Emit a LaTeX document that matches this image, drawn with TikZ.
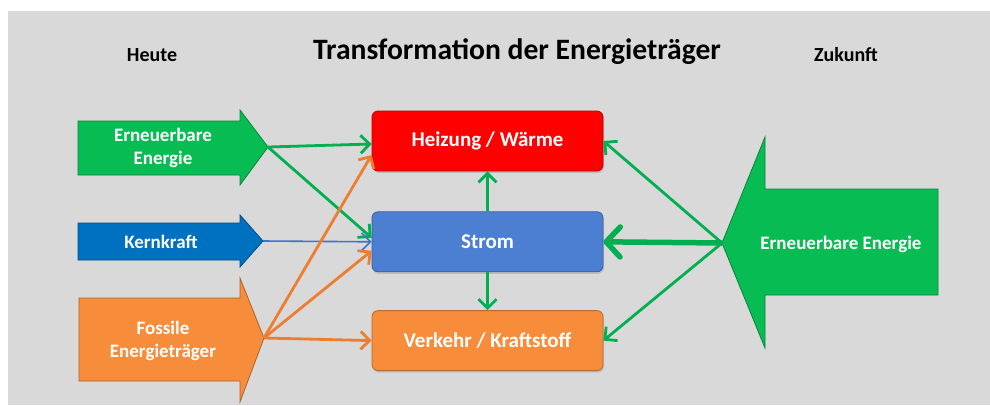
\documentclass[tikz,border=0pt]{standalone}
\usepackage{fontspec}
\setmainfont{Carlito}
\usetikzlibrary{arrows.meta, positioning, shadows}
\definecolor{bggray}{RGB}{217,217,217}
\definecolor{renewgreen}{RGB}{0,176,80}
\definecolor{renewfill}{RGB}{8,188,84}
\definecolor{nuclearblue}{RGB}{0,112,192}
\definecolor{nuclearline}{RGB}{68,114,196}
\definecolor{powerblue}{RGB}{76,126,210}
\definecolor{heatred}{RGB}{255,0,0}
\definecolor{fossilorange}{RGB}{247,140,58}
\definecolor{fossilline}{RGB}{237,125,49}

\begin{document}
\begin{tikzpicture}[
    x=1pt, y=-1pt,
    box/.style={draw=#1!75!black, fill=#1, line width=0.8pt, rounded corners=6pt,
        minimum width=231pt, minimum height=60pt, text=white,
        font=\fontsize{21}{25}\selectfont\bfseries,
        drop shadow={shadow xshift=1pt, shadow yshift=-2pt, opacity=0.3}},
    arrowshape/.style={fill=#1, draw=#1!70!black, line width=0.8pt},
    arrowtext/.style={text=white, align=center, font=\fontsize{19}{23}\selectfont\bfseries},
    heading/.style={font=\fontsize{20}{24}\selectfont\bfseries},
    arrow/.style={-{Straight Barb[length=9pt, width=18pt]}, line width=2.8pt, draw=#1},
    bigarrow/.style={-{Straight Barb[round, length=14pt, width=30pt]}, line width=5.5pt, draw=#1}
]

\useasboundingbox (0,0) rectangle (990,405);
\fill[bggray] (8,11) rectangle (990,405);

% headings
\node[heading] (heute) at (152,55) {Heute};
\node[font=\fontsize{29.6}{34}\selectfont\bfseries] (titel) at (517,52) {Transformation der Energieträger};
\node[heading] (zukunft) at (846,55) {Zukunft};

% block arrows on the left
\draw[arrowshape=renewfill] (78,121) -- (240,121) -- (240,110) -- (268,147)
    -- (240,185) -- (240,175) -- (78,175) -- cycle;
\draw[arrowshape=nuclearblue] (78,223) -- (240,223) -- (240,215) -- (263,241)
    -- (240,267) -- (240,260) -- (78,260) -- cycle;
\draw[arrowshape=fossilorange] (79,298) -- (240,298) -- (240,278) -- (264,338)
    -- (240,402) -- (240,381) -- (79,381) -- cycle;
\node[arrowtext] (erneuerbar) at (163,148) {Erneuerbare\\Energie};
\node[arrowtext] (kern) at (161,242) {Kernkraft};
\node[arrowtext] (fossil) at (163,341) {Fossile\\Energieträger};
\coordinate (erneuerbar tip) at (268,147);
\coordinate (kern tip) at (263,241);
\coordinate (fossil tip) at (264,338);

% big arrow on the right
\draw[arrowshape=renewfill] (938,189) -- (765,189) -- (765,137) -- (722,243)
    -- (765,348) -- (765,295) -- (938,295) -- cycle;
\node[arrowtext] (zukunftstrom) at (841,244) {Erneuerbare Energie};
\coordinate (zukunft tip) at (722,243);

% middle column
\node[box=heatred] (heizung) at (487.5,141) {Heizung / Wärme};
\node[box=powerblue, below=40pt of heizung] (strom) {Strom};
\node[box=fossilorange, below=38pt of strom] (verkehr) {Verkehr / Kraftstoff};

% connectors
\draw[arrow=renewgreen] (erneuerbar tip) -- ([yshift=-3pt]heizung.west);
\draw[arrow=renewgreen] (erneuerbar tip) -- ([yshift=4pt]strom.west);
\draw[arrow=nuclearline, line width=1.6pt] (kern tip) -- (strom.west);
\draw[arrow=fossilline] (fossil tip) -- ([yshift=-14pt]heizung.west);
\draw[arrow=fossilline] (fossil tip) -- ([yshift=-9pt]strom.west);
\draw[arrow=fossilline] (fossil tip) -- (verkehr.west);

\draw[arrow=renewgreen] (strom) -- (heizung);
\draw[arrow=renewgreen] (strom) -- (verkehr);

\draw[arrow=renewgreen] (zukunft tip) -- (heizung.east);
\draw[bigarrow=renewgreen] (zukunft tip) -- (strom.east);
\draw[arrow=renewgreen] (zukunft tip) -- (verkehr.east);

\end{tikzpicture}
\end{document}
